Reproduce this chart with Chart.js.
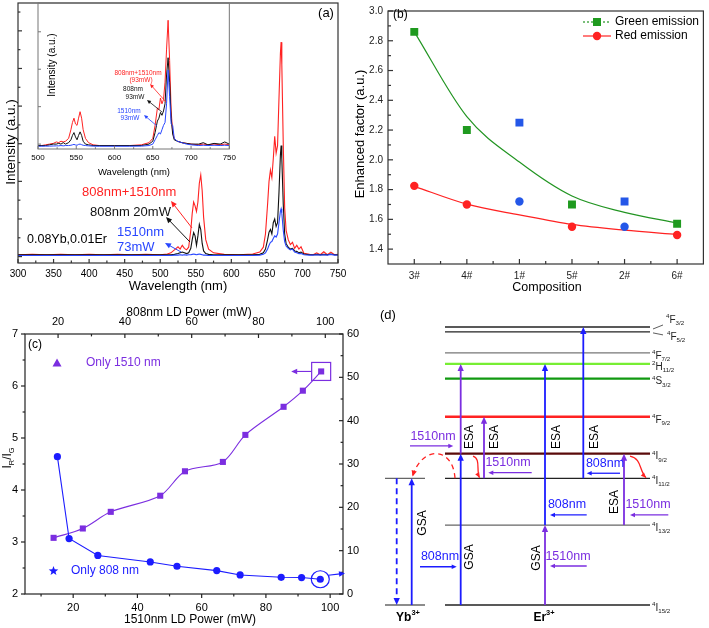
<!DOCTYPE html>
<html>
<head>
<meta charset="utf-8">
<title>Yb/Er upconversion under 808 nm + 1510 nm excitation</title>
<script src="https://cdn.jsdelivr.net/npm/chart.js@4.4.1/dist/chart.umd.min.js"></script>
<style>
  html, body { margin: 0; padding: 0; background: #fff; }
  #page { position: relative; width: 709px; height: 628px; overflow: hidden; background: #fff; }
  #page canvas { position: absolute; }
</style>
</head>
<body>
<div id="page">
  <canvas id="specChart" width="360" height="295" style="left:0;top:0"></canvas>
  <canvas id="insetChart" width="240" height="180" style="left:0;top:0"></canvas>
  <canvas id="factorChart" width="369" height="295" style="left:340px;top:0"></canvas>
  <canvas id="ratioChart" width="360" height="338" style="left:0;top:290px"></canvas>
  <canvas id="levelChart" width="349" height="333" style="left:360px;top:295px"></canvas>
</div>
<script>
// ---- (a) emission spectra, 0.08Yb,0.01Er ----
const mainWl = [300,320,340,360,380,400,420,440,460,480,
  500,510,515,520,525,528,531,534,537,540,
  543,545,547,549,551,553,555,557,559,561,
  564,568,575,590,610,630,640,645,648,651,
  653,655,657,659,661,663,665,667,669,670,
  671,673,675,677,680,683,686,689,692,695,
  698,702,710,715,720,725,730,735,740,745,
  750];
const redMain = [0.05,0.06,0.05,0.06,0.05,0.06,0.05,0.06,0.05,0.06,
  0.05,0.07,0.10,0.18,0.26,0.20,0.30,0.22,0.18,0.25,
  0.70,1.15,1.45,1.35,1.20,1.45,1.95,2.17,1.75,1.05,
  0.45,0.20,0.10,0.06,0.05,0.07,0.12,0.25,0.60,1.40,
  2.00,2.30,2.10,2.60,3.20,2.75,2.95,4.20,5.40,5.70,
  5.10,3.00,1.30,0.70,0.45,0.32,0.38,0.22,0.30,0.20,
  0.26,0.09,0.06,0.05,0.10,0.05,0.13,0.05,0.12,0.05,
  0.06];
const blackMain = [0.05,0.05,0.05,0.05,0.05,0.05,0.05,0.05,0.05,0.05,
  0.05,0.05,0.05,0.06,0.08,0.10,0.12,0.10,0.08,0.10,
  0.22,0.45,0.64,0.55,0.30,0.55,0.86,0.72,0.35,0.15,
  0.08,0.06,0.05,0.05,0.05,0.05,0.06,0.10,0.20,0.45,
  0.65,0.72,0.60,0.90,1.00,0.80,0.90,1.70,2.70,2.95,
  2.60,1.40,0.60,0.35,0.25,0.20,0.22,0.15,0.14,0.10,
  0.12,0.07,0.05,0.05,0.06,0.05,0.06,0.05,0.07,0.05,
  0.05];
const blueMain = [0.03,0.03,0.03,0.03,0.03,0.03,0.03,0.03,0.03,0.03,
  0.03,0.03,0.03,0.04,0.04,0.05,0.04,0.05,0.04,0.05,
  0.05,0.06,0.07,0.06,0.05,0.06,0.07,0.06,0.05,0.04,
  0.04,0.03,0.03,0.03,0.03,0.03,0.04,0.06,0.10,0.20,
  0.30,0.38,0.40,0.48,0.55,0.52,0.60,0.90,1.20,1.27,
  1.15,0.70,0.40,0.28,0.22,0.18,0.20,0.12,0.10,0.08,
  0.08,0.05,0.04,0.04,0.05,0.04,0.05,0.04,0.06,0.04,
  0.04];

// inset: all pumps at 93 mW
const insetWl = [500,505,510,515,520,524,527,530,533,536,
  540,543,545,547,549,551,553,555,557,559,
  562,566,572,580,600,620,635,645,650,653,
  656,658,660,662,664,666,668,670,672,674,
  676,678,682,688,694,700,710,716,722,730,
  738,744,750];
const redInset = [0.010,0.010,0.015,0.020,0.025,0.035,0.030,0.040,0.035,0.040,
  0.060,0.120,0.170,0.200,0.160,0.150,0.200,0.245,0.200,0.120,
  0.060,0.030,0.015,0.010,0.010,0.010,0.015,0.030,0.060,0.150,
  0.270,0.260,0.340,0.300,0.330,0.450,0.680,0.880,0.600,0.250,
  0.100,0.060,0.040,0.030,0.025,0.020,0.015,0.020,0.015,0.020,
  0.015,0.020,0.015];
const blackInset = [0.010,0.010,0.010,0.015,0.020,0.020,0.025,0.020,0.030,0.020,
  0.030,0.050,0.080,0.100,0.070,0.050,0.080,0.105,0.080,0.040,
  0.020,0.015,0.010,0.010,0.010,0.010,0.010,0.020,0.040,0.100,
  0.180,0.200,0.240,0.220,0.250,0.300,0.500,0.620,0.450,0.200,
  0.090,0.050,0.040,0.030,0.025,0.020,0.020,0.030,0.015,0.025,
  0.020,0.035,0.020];
const blueInset = [0.005,0.005,0.006,0.006,0.007,0.008,0.008,0.010,0.008,0.010,
  0.010,0.012,0.015,0.018,0.014,0.012,0.018,0.020,0.016,0.012,
  0.010,0.008,0.006,0.005,0.005,0.005,0.006,0.010,0.020,0.050,
  0.080,0.100,0.090,0.120,0.150,0.170,0.300,0.535,0.350,0.160,
  0.150,0.060,0.040,0.030,0.020,0.015,0.010,0.012,0.010,0.012,
  0.010,0.012,0.010];

// ---- (b) enhancement factor per composition ----
const compositions = ['3#', '4#', '1#', '5#', '2#', '6#'];
const greenFactor = [2.86, 2.20, 2.25, 1.70, 1.72, 1.57];
const redFactor = [1.825, 1.70, 1.72, 1.55, 1.55, 1.495];
const greenFit = [2.86, 2.29, 1.985, 1.757, 1.647, 1.575];
const redFit = [1.822, 1.702, 1.630, 1.566, 1.527, 1.498];
const blueSamples = ['1#', '2#'];

// ---- (c) red/green ratio vs LD power ----
const power1510 = [13.9, 23.0, 31.7, 47.1, 54.8, 66.6, 73.6, 85.5, 91.5, 97.2];
const ratio1510 = [3.08, 3.26, 3.58, 3.89, 4.36, 4.54, 5.06, 5.60, 5.91, 6.28];
const power808 = [19.8, 23.3, 31.9, 47.6, 55.6, 67.5, 74.5, 86.8, 92.9, 98.5];
const ratio808 = [31.7, 12.8, 8.9, 7.4, 6.4, 5.4, 4.4, 3.85, 3.8, 3.4];

// ---- (d) energy levels (10^3 cm^-1) ----
const erTerms = ['4I15/2', '4I13/2', '4I11/2', '4I9/2', '4F9/2', '4S3/2', '2H11/2', '4F7/2', '4F5/2', '4F3/2'];
const erEnergy = [0, 6.5, 10.3, 12.3, 15.3, 18.4, 19.6, 20.5, 22.2, 22.6];
const ybEnergy = [0, 10.3];
const transFrom = ['4I15/2', '4I9/2', '4I11/2', '4I15/2', '4I13/2', '4I11/2', '4I13/2'];
const transTo = ['4I9/2', '2H11/2', '4F9/2', '4I13/2', '2H11/2', '4F3/2', '4I9/2'];
const transPump = ['808', '1510', '1510', '1510', '808', '808', '1510'];

const FONT = 'Arial, "Liberation Sans", sans-serif';
const RED = '#ff2222', BLACK = '#111111', BLUE_A = '#2846ff';
const BLUE = '#1c1cff', PURPLE = '#7b2ee0', GREEN = '#1f9a1f';
const pumpColor = {'808': BLUE, '1510': PURPLE};

Chart.defaults.font.family = FONT;
Chart.defaults.color = '#000';

function base(padding) {
  return {
    responsive: false, animation: false, devicePixelRatio: 1, events: [],
    layout: {padding},
    elements: {point: {radius: 0}, line: {borderWidth: 1.2, tension: 0}},
    plugins: {legend: {display: false}, tooltip: {enabled: false}}
  };
}
function axis(extra) {
  return Object.assign({grid: {display: false, drawTicks: false}, border: {display: false}}, extra);
}
function line(xs, ys, color, extra) {
  return Object.assign({
    data: xs.map((x, i) => ({x, y: ys[i]})),
    borderColor: color, backgroundColor: color, borderWidth: 1.1, pointRadius: 0, fill: false
  }, extra || {});
}

// text with optional sub/superscript parts
function drawText(ctx, it) {
  const size = it.size || 12;
  const weight = it.bold ? 'bold ' : '';
  const parts = typeof it.t === 'string' ? [{t: it.t}] : it.t;
  ctx.save();
  ctx.translate(it.x, it.y);
  if (it.rot) ctx.rotate(it.rot * Math.PI / 180);
  let w = 0;
  parts.forEach(p => {
    p.s = (p.sub || p.sup) ? size * 0.62 : size;
    ctx.font = weight + p.s + 'px ' + FONT;
    p.w = ctx.measureText(p.t).width;
    w += p.w;
  });
  let x = it.align === 'left' ? 0 : it.align === 'right' ? -w : -w / 2;
  ctx.fillStyle = it.color || '#000';
  ctx.textBaseline = 'middle';
  ctx.textAlign = 'left';
  parts.forEach(p => {
    ctx.font = weight + p.s + 'px ' + FONT;
    const dy = p.sub ? size * 0.32 : p.sup ? -size * 0.38 : 0;
    ctx.fillText(p.t, x, dy);
    x += p.w;
  });
  ctx.restore();
}

function arrowHead(ctx, x, y, ang, color, head) {
  const hw = head * 0.45;
  const bx = x - head * Math.cos(ang), by = y - head * Math.sin(ang);
  ctx.save();
  ctx.fillStyle = color;
  ctx.beginPath();
  ctx.moveTo(x, y);
  ctx.lineTo(bx - hw * Math.sin(ang), by + hw * Math.cos(ang));
  ctx.lineTo(bx + hw * Math.sin(ang), by - hw * Math.cos(ang));
  ctx.closePath();
  ctx.fill();
  ctx.restore();
}
function arrow(ctx, x0, y0, x1, y1, color, width, head, dash) {
  const a = Math.atan2(y1 - y0, x1 - x0);
  ctx.save();
  ctx.strokeStyle = color;
  ctx.lineWidth = width;
  if (dash) ctx.setLineDash(dash);
  ctx.beginPath();
  ctx.moveTo(x0, y0);
  ctx.lineTo(x1 - (head - 1) * Math.cos(a), y1 - (head - 1) * Math.sin(a));
  ctx.stroke();
  ctx.restore();
  arrowHead(ctx, x1, y1, a, color, head);
}
function curveArrow(ctx, p0, c1, c2, p1, color, width, head, dash) {
  ctx.save();
  ctx.strokeStyle = color;
  ctx.lineWidth = width;
  if (dash) ctx.setLineDash(dash);
  ctx.beginPath();
  ctx.moveTo(p0[0], p0[1]);
  ctx.bezierCurveTo(c1[0], c1[1], c2[0], c2[1], p1[0], p1[1]);
  ctx.stroke();
  ctx.restore();
  arrowHead(ctx, p1[0], p1[1], Math.atan2(p1[1] - c2[1], p1[0] - c2[0]), color, head);
}

// frame around the plot area plus tick marks
function makeBox(color, width, tickSets) {
  return {
    id: 'box',
    afterDatasetsDraw(chart) {
      const ctx = chart.ctx, a = chart.chartArea;
      ctx.save();
      ctx.strokeStyle = color;
      ctx.lineWidth = width;
      ctx.strokeRect(a.left, a.top, a.right - a.left, a.bottom - a.top);
      tickSets.forEach(t => {
        const s = chart.scales[t.scale];
        const horiz = t.side === 'top' || t.side === 'bottom';
        const edge = a[t.side];
        const into = (t.side === 'bottom' || t.side === 'right') ? -1 : 1;
        const dir = t.inward ? into : -into;
        const mark = (v, len) => {
          const p = s.getPixelForValue(v);
          ctx.beginPath();
          if (horiz) { ctx.moveTo(p, edge); ctx.lineTo(p, edge + dir * len); }
          else { ctx.moveTo(edge, p); ctx.lineTo(edge + dir * len, p); }
          ctx.stroke();
        };
        for (let v = t.major[0]; v <= t.major[1] + 1e-9; v += t.major[2]) mark(v, t.len);
        if (t.minor) for (let v = t.minor[0]; v <= t.minor[1] + 1e-9; v += t.minor[2]) mark(v, t.len * 0.6);
      });
      ctx.restore();
    }
  };
}
function makeNotes(texts, extra) {
  return {
    id: 'notes',
    afterDraw(chart) {
      const ctx = chart.ctx;
      if (extra) extra(chart, ctx);
      texts.forEach(it => drawText(ctx, it));
    }
  };
}

// ================= (a) main spectra =================
new Chart(document.getElementById('specChart'), {
  type: 'line',
  data: {datasets: [
    line(mainWl, blueMain, BLUE_A),
    line(mainWl, blackMain, BLACK),
    line(mainWl, redMain, RED)
  ]},
  options: Object.assign(base({top: 3, right: 22, left: 0, bottom: 0}), {
    scales: {
      x: axis({type: 'linear', min: 300, max: 750, afterFit: s => { s.height = 32; },
        ticks: {stepSize: 50, padding: 5, font: {size: 10}, color: '#000', includeBounds: false, maxRotation: 0, autoSkip: false}}),
      y: axis({type: 'linear', min: -0.17, max: 6.74, afterFit: s => { s.width = 18; }, ticks: {display: false}})
    }
  }),
  plugins: [
    makeBox('#333', 1.2, [
      {scale: 'x', side: 'bottom', inward: true, len: 4, major: [300, 750, 50], minor: [325, 725, 50]},
      {scale: 'y', side: 'left', inward: true, len: 4, major: [0, 6, 1], minor: [0.5, 6.5, 1]}
    ]),
    makeNotes([
      {t: 'Intensity (a.u.)', x: 11, y: 142, size: 13.5, rot: -90},
      {t: 'Wavelength (nm)', x: 178, y: 286, size: 13},
      {t: '(a)', x: 326, y: 13, size: 13},
      {t: '808nm+1510nm', x: 82, y: 192, size: 13, color: RED, align: 'left'},
      {t: '808nm 20mW', x: 90, y: 212, size: 13, color: BLACK, align: 'left'},
      {t: '1510nm', x: 117, y: 232, size: 13, color: BLUE_A, align: 'left'},
      {t: '73mW', x: 117, y: 247, size: 13, color: BLUE_A, align: 'left'},
      {t: '0.08Yb,0.01Er', x: 27, y: 240, size: 12.5, align: 'left'}
    ], (chart, ctx) => {
      arrow(ctx, 192, 228, 171, 201, RED, 1, 6);
      arrow(ctx, 190, 242, 166, 217, BLACK, 1, 6);
      arrow(ctx, 181, 252, 165, 243, BLUE_A, 1, 6);
    })
  ]
});

// ================= (a) inset =================
new Chart(document.getElementById('insetChart'), {
  type: 'line',
  data: {datasets: [
    line(insetWl, blueInset, BLUE_A, {borderWidth: 1}),
    line(insetWl, blackInset, BLACK, {borderWidth: 1}),
    line(insetWl, redInset, RED, {borderWidth: 1})
  ]},
  options: Object.assign(base({top: 3, right: 9, left: 0, bottom: 0}), {
    scales: {
      x: axis({type: 'linear', min: 500, max: 750, afterFit: s => { s.height = 31; },
        ticks: {stepSize: 50, padding: 4, font: {size: 8}, color: '#000', includeBounds: false, maxRotation: 0, autoSkip: false}}),
      y: axis({type: 'linear', min: -0.014, max: 1, afterFit: s => { s.width = 38; }, ticks: {display: false}})
    }
  }),
  plugins: [
    makeBox('#777', 1, [
      {scale: 'x', side: 'bottom', inward: true, len: 3, major: [500, 750, 50], minor: [525, 725, 50]},
      {scale: 'y', side: 'left', inward: true, len: 3, major: [0.02, 0.8, 0.26]}
    ]),
    makeNotes([
      {t: 'Intensity (a.u.)', x: 52, y: 65, size: 10, rot: -90},
      {t: 'Wavelength (nm)', x: 134, y: 172, size: 9.5},
      {t: '808nm+1510nm', x: 138, y: 73, size: 6.5, color: RED},
      {t: '(93mW)', x: 141, y: 80, size: 6.5, color: RED},
      {t: '808nm', x: 133, y: 89, size: 6.5, color: BLACK},
      {t: '93mW', x: 135, y: 97, size: 6.5, color: BLACK},
      {t: '1510nm', x: 129, y: 111, size: 6.5, color: BLUE_A},
      {t: '93mW', x: 130, y: 118, size: 6.5, color: BLUE_A}
    ], (chart, ctx) => {
      arrow(ctx, 166, 102, 150, 84, RED, 0.8, 4);
      arrow(ctx, 162, 112, 147, 100, BLACK, 0.8, 4);
      arrow(ctx, 157, 126, 144, 115, BLUE_A, 0.8, 4);
    })
  ]
});

// ================= (b) enhanced factor =================
const greenPtColor = compositions.map(c => blueSamples.includes(c) ? '#2457e8' : GREEN);
const redPtColor = compositions.map(c => blueSamples.includes(c) ? '#2457e8' : RED);
new Chart(document.getElementById('factorChart'), {
  type: 'line',
  data: {
    labels: compositions,
    datasets: [
      {data: greenFactor, showLine: false, pointStyle: 'rect', pointRadius: 5.6,
        pointBackgroundColor: greenPtColor, pointBorderColor: greenPtColor, pointBorderWidth: 0},
      {data: redFactor, showLine: false, pointStyle: 'circle', pointRadius: 4.2,
        pointBackgroundColor: redPtColor, pointBorderColor: redPtColor, pointBorderWidth: 0},
      {data: greenFit, borderColor: '#239523', borderWidth: 1.2, pointRadius: 0, cubicInterpolationMode: 'monotone'},
      {data: redFit, borderColor: RED, borderWidth: 1.2, pointRadius: 0, cubicInterpolationMode: 'monotone'}
    ]
  },
  options: Object.assign(base({top: 5, right: 2, left: 0, bottom: 0}), {
    scales: {
      x: axis({type: 'category', offset: true, afterFit: s => { s.height = 31; },
        ticks: {padding: 6, font: {size: 10}, color: '#222'}}),
      y: axis({type: 'linear', min: 1.3, max: 3.0, afterFit: s => { s.width = 48; },
        ticks: {stepSize: 0.2, padding: 5, font: {size: 10}, color: '#222', includeBounds: false,
          callback: v => v.toFixed(1)}})
    }
  }),
  plugins: [
    makeBox('#333', 1.2, [
      {scale: 'x', side: 'bottom', inward: true, len: 5, major: [0, 5, 1], minor: [0.5, 4.5, 1]},
      {scale: 'y', side: 'left', inward: true, len: 5, major: [1.4, 3.0, 0.2], minor: [1.5, 2.9, 0.2]}
    ]),
    makeNotes([
      {t: 'Enhanced factor (a.u.)', x: 20, y: 134, size: 13, rot: -90},
      {t: 'Composition', x: 207, y: 288, size: 12.5},
      {t: '(b)', x: 53, y: 15, size: 12, align: 'left'},
      {t: 'Green emission', x: 275, y: 22, size: 12, align: 'left'},
      {t: 'Red emission', x: 275, y: 36, size: 12, align: 'left'}
    ], (chart, ctx) => {
      ctx.save();
      ctx.lineWidth = 1.2;
      ctx.strokeStyle = '#239523';
      ctx.setLineDash([2, 2]);
      ctx.beginPath(); ctx.moveTo(243, 22); ctx.lineTo(271, 22); ctx.stroke();
      ctx.setLineDash([]);
      ctx.fillStyle = GREEN;
      ctx.fillRect(253, 18, 8, 8);
      ctx.strokeStyle = RED;
      ctx.beginPath(); ctx.moveTo(243, 36); ctx.lineTo(271, 36); ctx.stroke();
      ctx.fillStyle = RED;
      ctx.beginPath(); ctx.arc(257, 36, 4.2, 0, Math.PI * 2); ctx.fill();
      ctx.restore();
    })
  ]
});

// ================= (c) I_R / I_G =================
function star(ctx, cx, cy, r, color) {
  ctx.save();
  ctx.fillStyle = color;
  ctx.beginPath();
  for (let i = 0; i < 10; i++) {
    const rr = i % 2 ? r * 0.42 : r;
    const a = -Math.PI / 2 + i * Math.PI / 5;
    ctx.lineTo(cx + rr * Math.cos(a), cy + rr * Math.sin(a));
  }
  ctx.closePath();
  ctx.fill();
  ctx.restore();
}
new Chart(document.getElementById('ratioChart'), {
  type: 'line',
  data: {datasets: [
    line(power808, ratio808, BLUE, {xAxisID: 'x2', yAxisID: 'y2', borderWidth: 1.1,
      pointRadius: 3.6, pointStyle: 'circle', pointBorderWidth: 0}),
    line(power1510, ratio1510, PURPLE, {xAxisID: 'x', yAxisID: 'y', borderWidth: 1.1, tension: 0.3,
      pointRadius: 4.3, pointStyle: 'rect', pointBorderWidth: 0})
  ]},
  options: Object.assign(base({top: 0, right: 0, left: 0, bottom: 0}), {
    scales: {
      x: axis({type: 'linear', position: 'bottom', min: 5, max: 104, afterFit: s => { s.height = 34; },
        ticks: {stepSize: 20, padding: 7, font: {size: 11}, includeBounds: false, maxRotation: 0}}),
      x2: axis({type: 'linear', position: 'top', min: 10.1, max: 105.3, afterFit: s => { s.height = 44; },
        ticks: {stepSize: 20, padding: 5, font: {size: 11}, includeBounds: false, maxRotation: 0}}),
      y: axis({type: 'linear', position: 'left', min: 2, max: 7, afterFit: s => { s.width = 25; },
        ticks: {stepSize: 1, padding: 7, font: {size: 11}}}),
      y2: axis({type: 'linear', position: 'right', min: 0, max: 60, afterFit: s => { s.width = 17; },
        ticks: {stepSize: 10, padding: 4, font: {size: 11}}})
    }
  }),
  plugins: [
    makeBox('#222', 1.2, [
      {scale: 'x', side: 'bottom', inward: false, len: 4, major: [20, 100, 20], minor: [10, 90, 20]},
      {scale: 'x2', side: 'top', inward: true, len: 4, major: [20, 100, 20], minor: [30, 90, 20]},
      {scale: 'y', side: 'left', inward: false, len: 4, major: [2, 7, 1], minor: [2.5, 6.5, 1]},
      {scale: 'y2', side: 'right', inward: true, len: 4, major: [0, 60, 10], minor: [5, 55, 10]}
    ]),
    makeNotes([
      {t: '808nm LD Power (mW)', x: 189, y: 23, size: 12},
      {t: '1510nm LD Power (mW)', x: 190, y: 330, size: 12},
      {t: [{t: 'I'}, {t: 'R', sub: 1}, {t: '/I'}, {t: 'G', sub: 1}], x: 8, y: 168, size: 12, rot: -90},
      {t: '(c)', x: 28, y: 55, size: 12, align: 'left'},
      {t: 'Only 1510 nm', x: 86, y: 73, size: 12, color: PURPLE, align: 'left'},
      {t: 'Only 808 nm', x: 71, y: 281, size: 12, color: BLUE, align: 'left'}
    ], (chart, ctx) => {
      const {x, y, x2, y2} = chart.scales;
      const n = power1510.length - 1;
      const sx = x.getPixelForValue(power1510[n]), sy = y.getPixelForValue(ratio1510[n]);
      ctx.save();
      ctx.lineWidth = 1.2;
      ctx.strokeStyle = PURPLE;
      ctx.strokeRect(sx - 9.5, sy - 9, 19, 18);
      ctx.restore();
      arrow(ctx, sx - 9.5, sy, sx - 30, sy, PURPLE, 1.1, 6);
      const cx = x2.getPixelForValue(power808[n]), cy = y2.getPixelForValue(ratio808[n]);
      ctx.save();
      ctx.lineWidth = 1.2;
      ctx.strokeStyle = BLUE;
      ctx.beginPath(); ctx.ellipse(cx, cy, 9, 8.5, 0, 0, Math.PI * 2); ctx.stroke();
      ctx.restore();
      arrow(ctx, cx + 8, cy - 4, chart.chartArea.right + 2, cy - 6, BLUE, 1.1, 6);
      // legend symbols
      ctx.save();
      ctx.fillStyle = PURPLE;
      ctx.beginPath(); ctx.moveTo(57, 68.5); ctx.lineTo(61.5, 76.5); ctx.lineTo(52.5, 76.5); ctx.closePath(); ctx.fill();
      ctx.restore();
      star(ctx, 53.5, 281, 5, BLUE);
    })
  ]
});

// ================= (d) energy level scheme =================
const erLevelStyle = {
  '4I15/2': ['#222', 1.3], '4I13/2': ['#666', 1.3], '4I11/2': ['#222', 1.3], '4I9/2': ['#5a0a0a', 2.2],
  '4F9/2': ['#ff2222', 2.6], '4S3/2': ['#119911', 2.4], '2H11/2': ['#77ee33', 2.4],
  '4F7/2': ['#777', 1.3], '4F5/2': ['#222', 1.3], '4F3/2': ['#222', 1.3]
};
const erSpan = [85, 290], ybSpan = [25, 65];
const transCol = [100.7, 100.7, 124, 185, 185, 223.3, 264];
const pumpArrows = [ // [x from, x to, energy, pump, label x, label y]
  [60, 96.7, 3.11, '808', 80, 262],
  [50, 93.3, 12.93, '1510', 73, 142],
  [171.7, 128.3, 10.76, '1510', 148, 168],
  [226.7, 190, 3.17, '1510', 208, 262],
  [226.7, 190, 7.32, '808', 207, 210],
  [260, 226.7, 10.71, '808', 245, 169],
  [308.3, 270, 7.32, '1510', 288, 210]
];
const stepLabels = [['GSA', 63, 228], ['GSA', 110, 262], ['ESA', 110, 142], ['ESA', 135, 142],
  ['GSA', 177, 263], ['ESA', 197, 142], ['ESA', 235, 142], ['ESA', 255, 207]];
const termParts = term => [{t: term[0], sup: 1}, {t: term[1]}, {t: term.slice(2), sub: 1}];
const E = term => erEnergy[erTerms.indexOf(term)];

const levelSets = erTerms.map((term, i) => ({
  data: [{x: erSpan[0], y: erEnergy[i]}, {x: erSpan[1], y: erEnergy[i]}],
  borderColor: erLevelStyle[term][0], borderWidth: erLevelStyle[term][1], pointRadius: 0
})).concat(ybEnergy.map(e => ({
  data: [{x: ybSpan[0], y: e}, {x: ybSpan[1], y: e}], borderColor: '#666', borderWidth: 1.3, pointRadius: 0
})));

new Chart(document.getElementById('levelChart'), {
  type: 'line',
  data: {datasets: levelSets},
  options: Object.assign(base({top: 0, right: 0, left: 0, bottom: 0}), {
    scales: {
      x: {type: 'linear', display: false, min: 0, max: 349},
      y: {type: 'linear', display: false, min: -1.87, max: 25.2}
    }
  }),
  plugins: [{
    id: 'scheme',
    afterDatasetsDraw(chart) {
      const ctx = chart.ctx;
      const X = v => chart.scales.x.getPixelForValue(v);
      const Y = v => chart.scales.y.getPixelForValue(v);
      // Yb3+ absorption and relaxation
      arrow(ctx, X(36.7), Y(ybEnergy[1]), X(36.7), Y(ybEnergy[0]), BLUE, 1.8, 7, [6, 4]);
      arrow(ctx, X(51.7), Y(ybEnergy[0]), X(51.7), Y(ybEnergy[1]), BLUE, 1.8, 7);
      // Er3+ GSA / ESA steps
      transFrom.forEach((f, i) => {
        arrow(ctx, X(transCol[i]), Y(E(f)), X(transCol[i]), Y(E(transTo[i])), pumpColor[transPump[i]], 1.8, 7);
      });
      // pump photons
      pumpArrows.forEach(p => {
        arrow(ctx, X(p[0]), Y(p[2]), X(p[1]), Y(p[2]), pumpColor[p[3]], 1.3, 5);
        drawText(ctx, {t: p[3] + 'nm', x: p[4], y: p[5], size: 12.5, color: pumpColor[p[3]]});
      });
      // energy transfer and non-radiative relaxation
      curveArrow(ctx, [X(95), Y(10.3)], [X(93), Y(12.9)], [X(62), Y(13.0)], [X(52.5), Y(10.45)], '#ff2020', 1.3, 6, [5, 4]);
      curveArrow(ctx, [X(113), Y(12.1)], [X(121), Y(11.9)], [X(116), Y(10.9)], [X(119.5), Y(10.35)], '#ff2020', 1.3, 5);
      curveArrow(ctx, [X(270), Y(12.1)], [X(282), Y(11.9)], [X(279), Y(10.9)], [X(286), Y(10.35)], '#ff2020', 1.3, 5);
      stepLabels.forEach(s => drawText(ctx, {t: s[0], x: s[1], y: s[2], size: 12, rot: -90}));
      // term labels
      erTerms.forEach((term, i) => {
        if (term === '4F3/2' || term === '4F5/2') return;
        drawText(ctx, {t: termParts(term), x: 292, y: Y(erEnergy[i]) + 3, size: 10, align: 'left', color: '#222'});
      });
      ctx.save();
      ctx.strokeStyle = '#333';
      ctx.lineWidth = 0.8;
      ctx.beginPath(); ctx.moveTo(293, Y(E('4F3/2')) + 2); ctx.lineTo(303, Y(E('4F3/2')) - 2); ctx.stroke();
      ctx.beginPath(); ctx.moveTo(293, Y(E('4F5/2')) + 1); ctx.lineTo(303, Y(E('4F5/2')) + 3); ctx.stroke();
      ctx.restore();
      drawText(ctx, {t: termParts('4F3/2'), x: 306, y: 25, size: 10, align: 'left', color: '#222'});
      drawText(ctx, {t: termParts('4F5/2'), x: 307, y: 42, size: 10, align: 'left', color: '#222'});
      drawText(ctx, {t: '(d)', x: 20, y: 20, size: 13, align: 'left'});
      drawText(ctx, {t: [{t: 'Yb'}, {t: '3+', sup: 1}], x: 48, y: 323, size: 12, bold: true});
      drawText(ctx, {t: [{t: 'Er'}, {t: '3+', sup: 1}], x: 184, y: 323, size: 12, bold: true});
    }
  }]
});
</script>
</body>
</html>
